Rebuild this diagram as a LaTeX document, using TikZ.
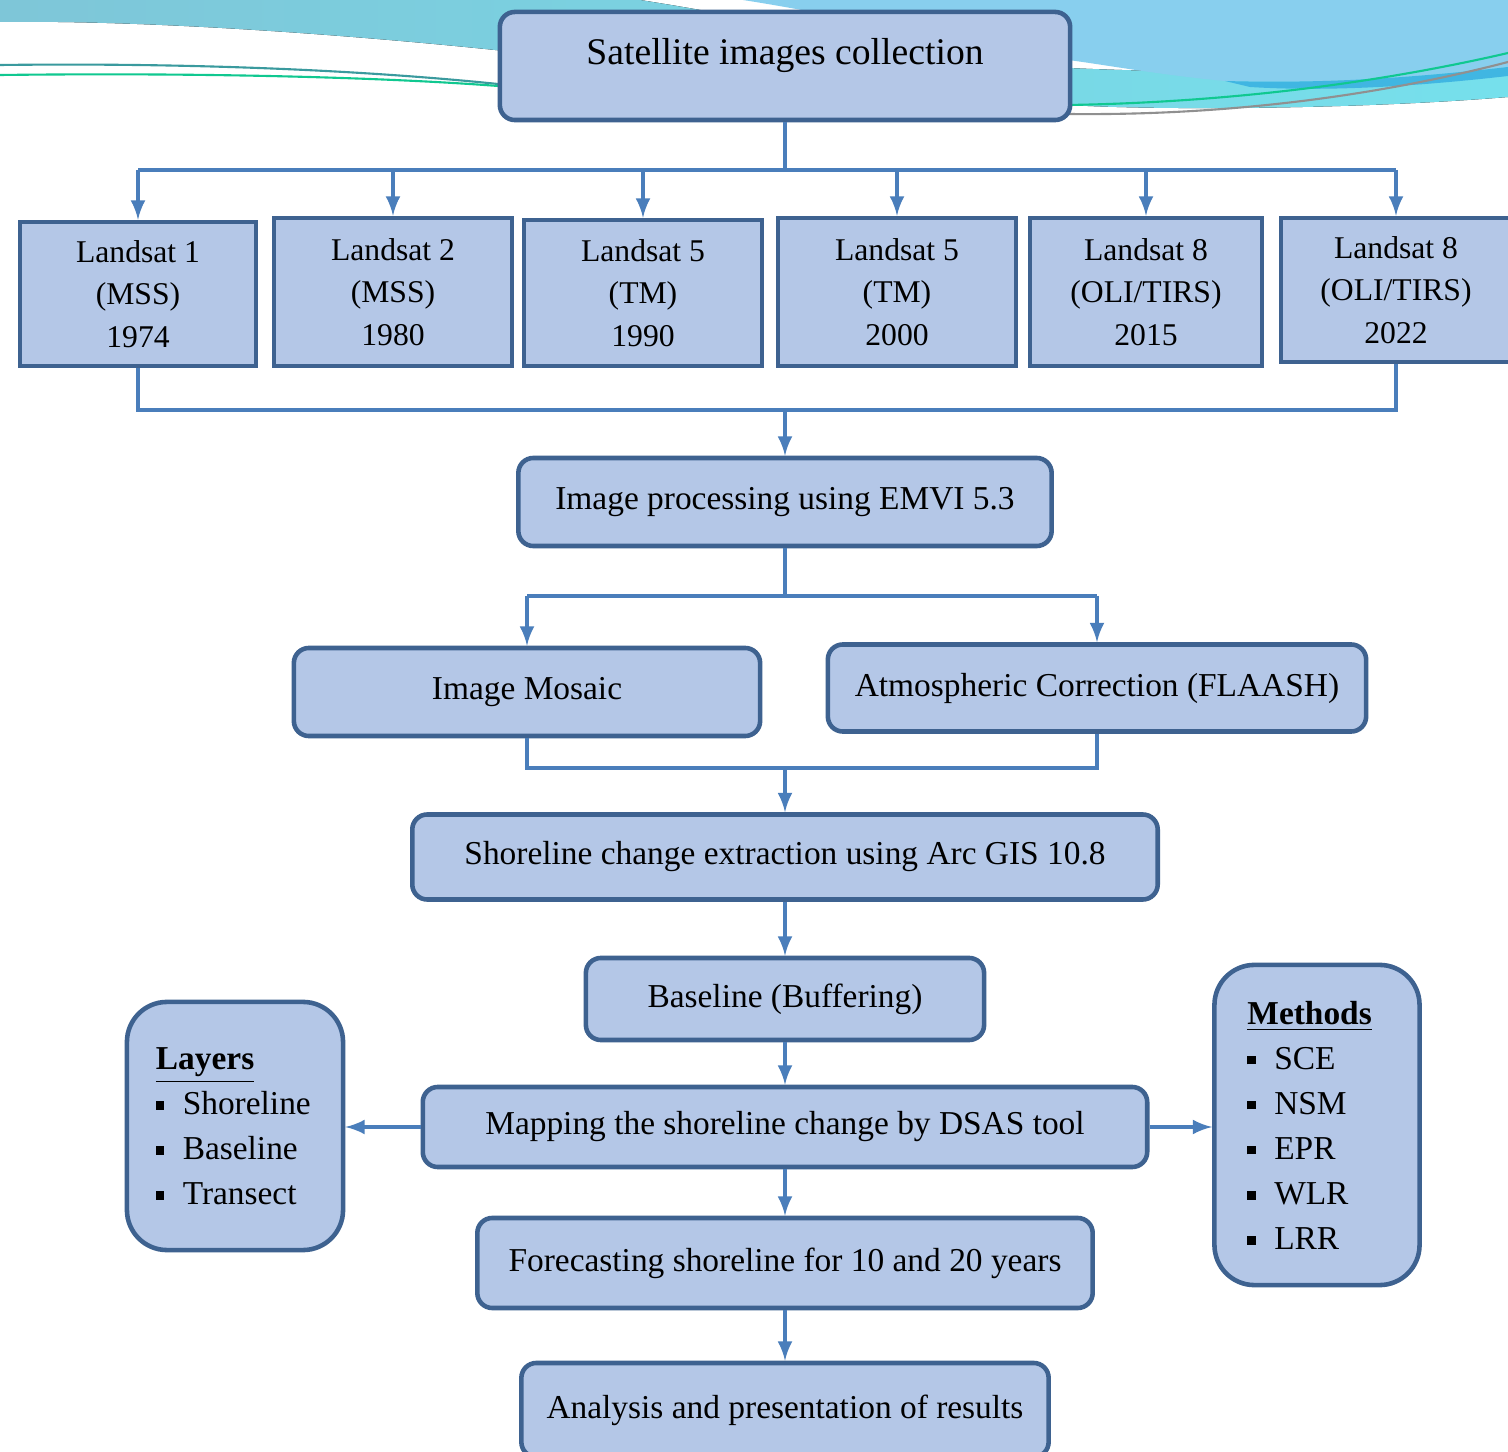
\documentclass[tikz,border=0pt]{standalone}
\usepackage{fontspec}
\setmainfont{Liberation Serif}
\usepackage{tikz}
\usetikzlibrary{calc,arrows}
\definecolor{boxfill}{HTML}{B4C7E7}
\definecolor{boxline}{HTML}{3E6290}
\definecolor{arrline}{HTML}{4A7EBB}
\definecolor{wavea}{HTML}{7EC6D8}
\definecolor{waveb}{HTML}{76E0EC}
\definecolor{wavec}{HTML}{88CFEE}
\definecolor{waved}{HTML}{40B6E2}
\definecolor{lineg}{HTML}{10C890}
\definecolor{linet}{HTML}{3A9A9E}
\definecolor{linegr}{HTML}{909090}
\newcommand{\sqb}{\rule[0.3ex]{0.55ex}{0.55ex}\hspace{0.55em}}

\begin{document}
\begin{tikzpicture}[x=0.01cm,y=-0.01cm]
                      \tikzstyle{flowbox}=[draw=boxline,fill=boxfill,line width=1.3pt,rounded corners=0.15cm,inner sep=0pt,font=\fontsize{9.5}{12}\selectfont]
                      \tikzstyle{lsbox}=[draw=boxline,fill=boxfill,line width=1.3pt,inner sep=0pt,align=center,font=\fontsize{9}{12}\selectfont]
                      \tikzstyle{listbox}=[flowbox,rounded corners=0.4cm,align=left,font=\fontsize{9.5}{12.8}\selectfont]
                      \tikzstyle{conn}=[draw=arrline,line width=0.9pt]
                      \tikzstyle{connarr}=[conn,-latex]
                      \useasboundingbox (0,0) rectangle (1508,1452);
                      \fill[white] (0,0) rectangle (1508,1452);
                      \fill[left color=wavea,right color=waveb] (0,0) -- (640,0) .. controls (800,25) and (950,62) .. (1068,68) .. controls (1250,76) and (1400,70) .. (1508,60) -- (1508,97) .. controls (1350,110) and (1150,110) .. (1068,105) .. controls (850,95) and (650,65) .. (495,50) .. controls (350,35) and (150,20) .. (0,22) -- cycle;
                      \fill[wavec] (743,0) -- (1508,0) -- (1508,67) .. controls (1420,77) and (1330,84) .. (1225,81) .. controls (1160,75) and (1100,64) .. (1068,60) .. controls (930,35) and (820,12) .. (743,0) -- cycle;
                      \fill[waved] (1225,81) .. controls (1330,84) and (1420,77) .. (1508,67) -- (1508,76) .. controls (1420,86) and (1330,92) .. (1250,87) -- cycle;
                      \draw[linet,line width=0.6pt] (0,65) .. controls (250,62) and (420,76) .. (498,84);
                      \draw[linegr,line width=0.6pt] (1068,114) .. controls (1250,116) and (1400,90) .. (1508,62);
                      \draw[lineg,line width=0.6pt] (0,75) .. controls (250,72) and (420,80) .. (498,86);
                      \draw[lineg,line width=0.6pt] (1068,105) .. controls (1250,102) and (1400,78) .. (1508,53);
                      \node[flowbox,minimum width=5.7cm,minimum height=1.08cm,font=\fontsize{10.7}{13}\selectfont] (sat) at (785,66) {\raisebox{3pt}[\height][\depth]{Satellite images collection}};
                      \node[lsbox,minimum width=2.36cm,minimum height=1.44cm] (ls1) at (138,294) {Landsat 1\\(MSS)\\1974};
                      \node[lsbox,minimum width=2.38cm,minimum height=1.48cm] (ls2) at (393,292) {Landsat 2\\(MSS)\\1980};
                      \node[lsbox,minimum width=2.38cm,minimum height=1.46cm] (ls3) at (643,293) {Landsat 5\\(TM)\\1990};
                      \node[lsbox,minimum width=2.38cm,minimum height=1.48cm] (ls4) at (897,292) {Landsat 5\\(TM)\\2000};
                      \node[lsbox,minimum width=2.32cm,minimum height=1.48cm] (ls5) at (1146,292) {Landsat 8\\(OLI/TIRS)\\2015};
                      \node[lsbox,minimum width=2.30cm,minimum height=1.44cm] (ls6) at (1396,290) {Landsat 8\\(OLI/TIRS)\\2022};
                      \node[flowbox,minimum width=5.33cm,minimum height=0.88cm] (proc) at (785,502) {Image processing using EMVI 5.3};
                      \node[flowbox,minimum width=4.66cm,minimum height=0.88cm] (mosaic) at (527,692) {Image Mosaic};
                      \node[flowbox,minimum width=5.38cm,minimum height=0.87cm] (atmo) at (1097,688) {Atmospheric Correction (FLAASH)};
                      \node[flowbox,minimum width=7.45cm,minimum height=0.85cm] (shore) at (785,857) {Shoreline change extraction using Arc GIS 10.8};
                      \node[flowbox,minimum width=3.98cm,minimum height=0.82cm] (base) at (785,999) {Baseline (Buffering)};
                      \node[flowbox,minimum width=7.24cm,minimum height=0.80cm] (map) at (785,1127) {Mapping the shoreline change by DSAS tool};
                      \node[flowbox,minimum width=6.15cm,minimum height=0.90cm] (fore) at (785,1263) {Forecasting shoreline for 10 and 20 years};
                      \node[flowbox,minimum width=5.27cm,minimum height=0.94cm] (anal) at (785,1410) {Analysis and presentation of results};
                      \node[listbox,minimum width=2.16cm,minimum height=2.48cm,text width=1.58cm] (layers) at (235,1126) {\underline{\textbf{Layers}}\\\sqb Shoreline\\\sqb Baseline\\\sqb Transect};
                      \node[listbox,minimum width=2.05cm,minimum height=3.20cm,text width=1.39cm] (methods) at (1317,1125) {\underline{\textbf{Methods}}\\\sqb SCE\\\sqb NSM\\\sqb EPR\\\sqb WLR\\\sqb LRR};
                      \coordinate (top) at (785,170);
                      \coordinate (bot) at (785,410);
                      \coordinate (split) at (785,596);
                      \coordinate (join) at (785,768);
                      \draw[conn] (sat.south) -- (top);
                      \draw[conn] (ls1.north |- top) -- (ls6.north |- top);
                      \foreach \n in {ls1,ls2,ls3,ls4,ls5,ls6}
                        \draw[connarr] (\n.north |- top) -- (\n.north);
                      \draw[conn] (ls1.south) -- (ls1.south |- bot) -- (ls6.south |- bot) -- (ls6.south);
                      \draw[connarr] (bot) -- (proc.north);
                      \draw[conn] (proc.south) -- (split);
                      \draw[conn] (mosaic.north |- split) -- (atmo.north |- split);
                      \draw[connarr] (mosaic.north |- split) -- (mosaic.north);
                      \draw[connarr] (atmo.north |- split) -- (atmo.north);
                      \draw[conn] (mosaic.south) -- (mosaic.south |- join) -- (atmo.south |- join) -- (atmo.south);
                      \draw[connarr] (join) -- (shore.north);
                      \draw[connarr] (shore.south) -- (base.north);
                      \draw[connarr] (base.south) -- (map.north);
                      \draw[connarr] (map.west) -- (map.west -| layers.east);
                      \draw[connarr] (map.east) -- (map.east -| methods.west);
                      \draw[connarr] (map.south) -- (fore.north);
                      \draw[connarr] (fore.south) -- (anal.north);
                  \end{tikzpicture}
\end{document}
